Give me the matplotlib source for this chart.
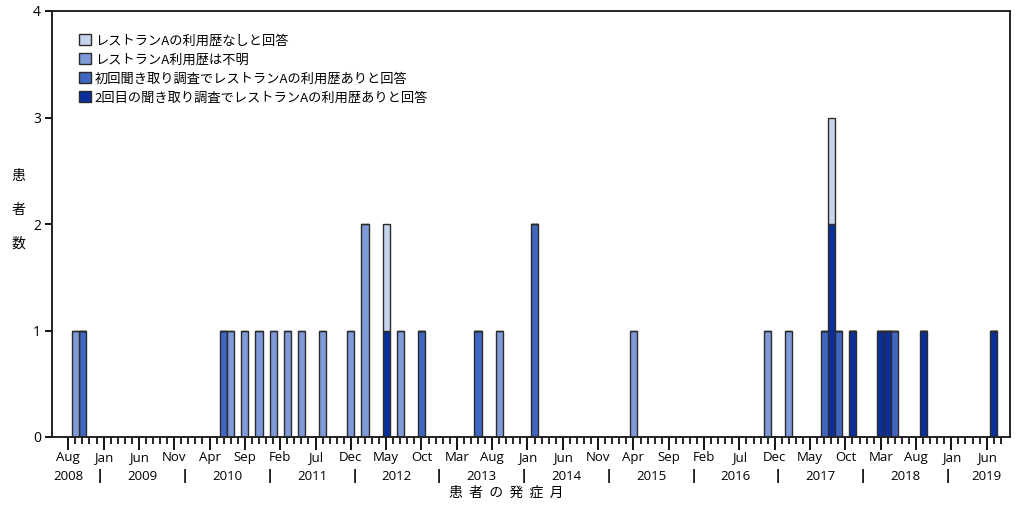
import matplotlib
matplotlib.use("Agg")
import matplotlib.pyplot as plt
from matplotlib.patches import Patch

# 発症月 (bars present) and patients per category
months = ["2008-09", "2008-10", "2010-06", "2010-07", "2010-09", "2010-11",
          "2011-01", "2011-03", "2011-05", "2011-08", "2011-12", "2012-02",
          "2012-05", "2012-07", "2012-10", "2013-06", "2013-09", "2014-02",
          "2015-04", "2016-11", "2017-02", "2017-07", "2017-08", "2017-09",
          "2017-11", "2018-03", "2018-04", "2018-05", "2018-09", "2019-07"]
no_visit   = [0, 0, 0, 0, 0, 0, 0, 0, 0, 0, 0, 0, 1, 0, 0, 0, 0, 0, 0, 0, 0, 0, 1, 0, 0, 0, 0, 0, 0, 0]
unknown    = [1, 0, 0, 1, 1, 1, 1, 1, 1, 1, 1, 2, 0, 1, 0, 0, 1, 0, 1, 1, 1, 0, 0, 0, 0, 0, 0, 0, 0, 0]
first_yes  = [0, 1, 1, 0, 0, 0, 0, 0, 0, 0, 0, 0, 0, 0, 1, 1, 0, 2, 0, 0, 0, 1, 0, 1, 0, 0, 0, 1, 0, 0]
second_yes = [0, 0, 0, 0, 0, 0, 0, 0, 0, 0, 0, 0, 1, 0, 0, 0, 0, 0, 0, 0, 0, 0, 2, 0, 1, 1, 1, 0, 1, 1]

labels = ["レストランAの利用歴なしと回答",
          "レストランA利用歴は不明",
          "初回聞き取り調査でレストランAの利用歴ありと回答",
          "2回目の聞き取り調査でレストランAの利用歴ありと回答"]
colors = ["#c6d4ee", "#7e9ad8", "#3f66c0", "#0a2f9b"]

month_names = ["Jan", "Feb", "Mar", "Apr", "May", "Jun",
               "Jul", "Aug", "Sep", "Oct", "Nov", "Dec"]
start_year, start_month = 2008, 8
n_months = 133  # Aug 2008 .. Aug 2019

def month_index(s):
    y, m = map(int, s.split("-"))
    return (y - start_year) * 12 + (m - start_month)

lat = ["Open Sans", "DejaVu Sans"]
jp = ["Noto Sans CJK JP", "DejaVu Sans"]

fig = plt.figure(figsize=(10.24, 5.12), dpi=100)
ax = fig.add_axes([52 / 1024, 1 - 437 / 512, 958 / 1024, 426 / 512])

x = [month_index(m) for m in months]
bottom = [0] * len(x)
# darkest at the bottom
for vals, col in zip([second_yes, first_yes, unknown, no_visit], colors[::-1]):
    ax.bar(x, vals, bottom=bottom, width=1.0, color=col,
           edgecolor="#2b2b2b", linewidth=1.0, zorder=2)
    bottom = [b + v for b, v in zip(bottom, vals)]

ax.set_xlim(-2.3, 133.3)
ax.set_ylim(0, 4)
ax.set_yticks([0, 1, 2, 3, 4])
ax.tick_params(axis="y", length=5, width=1.3, pad=3, labelsize=10)

major = list(range(0, n_months, 5))
ax.set_xticks(major)
ax.set_xticks(range(n_months), minor=True)
ax.set_xticklabels([month_names[(start_month - 1 + i) % 12] for i in major])
ax.tick_params(axis="x", which="major", length=9, width=1.3, pad=1, labelsize=9.5)
ax.tick_params(axis="x", which="minor", length=5, width=1.2)
for lab in ax.get_xticklabels() + ax.get_yticklabels():
    lab.set_family(lat)

for s in ax.spines.values():
    s.set_linewidth(1.4)
    s.set_color("#222222")

# year row under the month labels
tr = ax.get_xaxis_transform()
yr_y = -(476 - 437) / 426
end_year = start_year + (n_months - 1 + start_month - 1) // 12
for yr in range(start_year, end_year + 1):
    jan = (yr - start_year) * 12 + (1 - start_month)
    if yr == start_year:
        xc = 0
    elif yr == end_year:
        xc = 130
    else:
        xc = jan + 5.5
    ax.text(xc, yr_y, str(yr), transform=tr, ha="center", va="center",
            fontsize=9.5, family=lat)
    if yr > start_year:
        ax.text(jan - 0.5, yr_y, "|", transform=tr, ha="center", va="center",
                fontsize=10.5, fontweight="bold", family=lat)

handles = [Patch(facecolor=c, edgecolor="#2b2b2b", linewidth=1.0) for c in colors]
leg = ax.legend(handles, labels, loc="upper left", bbox_to_anchor=(0.028, 0.945),
                frameon=False, borderpad=0, borderaxespad=0, handlelength=0.9,
                handleheight=0.9, handletextpad=0.3, labelspacing=0.45,
                prop={"family": jp, "size": 9.5})

fig.text(18 / 1024, 1 - 210 / 512, "患\n者\n数", ha="center", va="center",
         linespacing=2.8, fontsize=10, family=jp)
fig.text(506 / 1024, 1 - 493 / 512, "患  者  の  発  症  月", ha="center",
         va="center", fontsize=10, family=jp)

fig.savefig("out.png", dpi=100)
